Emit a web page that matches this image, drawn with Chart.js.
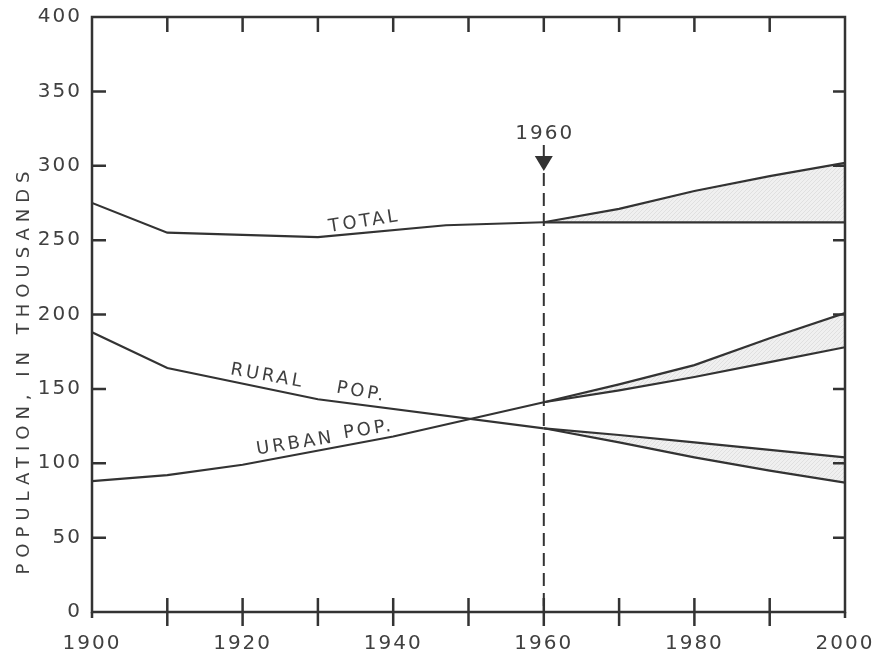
<!DOCTYPE html>
<html>
<head>
<meta charset="utf-8">
<script src="https://cdn.jsdelivr.net/npm/chart.js@4.4.1/dist/chart.umd.min.js"></script>
<style>
  html, body { margin: 0; padding: 0; background: #ffffff; }
  canvas { display: block; }
</style>
</head>
<body>
<canvas id="pop" width="880" height="657"></canvas>
<script>
// Census history (thousands of people)
const totalYears = [1900, 1910, 1930, 1947, 1960];
const totalPop   = [275, 255, 252, 260, 262];
const ruralYears = [1900, 1910, 1930, 1960];
const ruralPop   = [188, 164, 143, 123.5];
const urbanYears = [1900, 1910, 1920, 1940, 1960];
const urbanPop   = [88, 92, 99, 118, 141];

// Projection range 1960-2000 (high and low estimates)
const projYears  = [1960, 1970, 1980, 1990, 2000];
const totalHigh  = [262, 271, 283, 293, 302];
const totalLow   = [262, 262, 262, 262, 262];
const ruralHigh  = [123.5, 119, 114, 109, 104];
const ruralLow   = [123.5, 114, 104, 95, 87];
const urbanHigh  = [141, 153, 166, 184, 201];
const urbanLow   = [141, 149, 158, 168, 178];

// Axis ticks
const yTickValues  = [0, 50, 100, 150, 200, 250, 300, 350, 400];
const xTickYears   = [1910, 1920, 1930, 1940, 1950, 1960, 1970, 1980, 1990];
const baseYear     = 1960;

const INK = '#333333';
const TEXT = '#404040';
const FONT = '"DejaVu Sans", sans-serif';

function pts(xs, ys) { return xs.map((x, i) => ({ x: x, y: ys[i] })); }

// fine diagonal hatching for the projection bands
function hatch() {
  const c = document.createElement('canvas');
  c.width = 4; c.height = 4;
  const g = c.getContext('2d');
  g.fillStyle = '#f0f0f0';
  g.fillRect(0, 0, 4, 4);
  g.strokeStyle = '#dcdcdc';
  g.lineWidth = 0.8;
  g.beginPath();
  g.moveTo(0, 4); g.lineTo(4, 0);
  g.moveTo(-1, 1); g.lineTo(1, -1);
  g.moveTo(3, 5); g.lineTo(5, 3);
  g.stroke();
  return g.createPattern(c, 'repeat');
}
const band = hatch();

function line(data, fill) {
  return {
    data: data,
    borderColor: INK,
    borderWidth: 2.2,
    pointRadius: 0,
    tension: 0,
    fill: fill || false,
    backgroundColor: band
  };
}

const datasets = [
  line(pts(totalYears, totalPop)),
  line(pts(projYears, totalLow)),
  line(pts(projYears, totalHigh), '-1'),
  line(pts(ruralYears, ruralPop)),
  line(pts(projYears, ruralLow)),
  line(pts(projYears, ruralHigh), '-1'),
  line(pts(urbanYears, urbanPop)),
  line(pts(projYears, urbanLow)),
  line(pts(projYears, urbanHigh), '-1')
];

function label(ctx, text, x, y, deg, size, spacing) {
  ctx.save();
  ctx.translate(x, y);
  ctx.rotate(deg * Math.PI / 180);
  ctx.font = size + 'px ' + FONT;
  ctx.letterSpacing = spacing + 'px';
  ctx.fillStyle = TEXT;
  ctx.textAlign = 'center';
  ctx.textBaseline = 'middle';
  ctx.fillText(text, spacing / 2, 0);
  ctx.restore();
}

const framePlugin = {
  id: 'frame',
  beforeDraw(chart) {
    chart.ctx.letterSpacing = '2px';
  },
  afterDraw(chart) {
    const ctx = chart.ctx;
    const a = chart.chartArea;
    const xs = chart.scales.x, ys = chart.scales.y;
    ctx.save();
    ctx.strokeStyle = INK;
    ctx.lineWidth = 2.5;
    ctx.strokeRect(a.left, a.top, a.right - a.left, a.bottom - a.top);

    ctx.beginPath();
    // inward ticks on left and right sides
    yTickValues.filter(v => v > 0 && v < 400).forEach(v => {
      const py = ys.getPixelForValue(v);
      ctx.moveTo(a.left, py); ctx.lineTo(a.left + 14, py);
      ctx.moveTo(a.right, py); ctx.lineTo(a.right - 12, py);
    });
    // top ticks point down, bottom ticks cross the axis
    xTickYears.forEach(yr => {
      const px = xs.getPixelForValue(yr);
      ctx.moveTo(px, a.top); ctx.lineTo(px, a.top + 15);
      ctx.moveTo(px, a.bottom - 14); ctx.lineTo(px, a.bottom + 14);
    });
    [1900, 2000].forEach(yr => {
      const px = xs.getPixelForValue(yr);
      ctx.moveTo(px, a.bottom); ctx.lineTo(px, a.bottom + 6);
    });
    ctx.stroke();

    // 1960 marker: dashed line with arrow
    const bx = xs.getPixelForValue(baseYear);
    ctx.lineWidth = 2;
    ctx.setLineDash([13, 7]);
    ctx.beginPath();
    ctx.moveTo(bx, 173); ctx.lineTo(bx, a.bottom);
    ctx.stroke();
    ctx.setLineDash([]);
    ctx.beginPath();
    ctx.moveTo(bx, 145); ctx.lineTo(bx, 158);
    ctx.stroke();
    ctx.fillStyle = INK;
    ctx.beginPath();
    ctx.moveTo(bx - 9, 156); ctx.lineTo(bx + 9, 156); ctx.lineTo(bx, 171);
    ctx.closePath();
    ctx.fill();
    ctx.restore();

    label(ctx, String(baseYear), bx, 134, 0, 20, 2);

    // series names along the curves
    label(ctx, 'TOTAL', 363, 222, -9, 18, 3);
    label(ctx, 'RURAL', 266, 376, 10, 18, 3);
    label(ctx, 'POP.', 360, 392, 10, 18, 3);
    label(ctx, 'URBAN', 294, 444, -9, 18, 3);
    label(ctx, 'POP.', 367, 430, -9, 18, 3);

    // vertical axis title
    label(ctx, 'POPULATION, IN THOUSANDS', 24, 373, -90, 18, 6);
  }
};

new Chart(document.getElementById('pop'), {
  type: 'line',
  data: { datasets: datasets },
  plugins: [framePlugin],
  options: {
    responsive: false,
    animation: false,
    devicePixelRatio: 1,
    layout: { padding: { top: 17, right: 35, left: 0, bottom: 0 } },
    plugins: {
      legend: { display: false },
      tooltip: { enabled: false },
      filler: { propagate: false }
    },
    scales: {
      x: {
        type: 'linear',
        min: 1900,
        max: 2000,
        grid: { display: false, drawTicks: false },
        border: { display: false },
        ticks: { stepSize: 20, padding: 20, color: TEXT, font: { family: FONT, size: 20 },
                 callback: v => String(v) },
        afterFit(s) { s.height = 45; s.paddingLeft = 0; s.paddingRight = 0; }
      },
      y: {
        min: 0,
        max: 400,
        grid: { display: false, drawTicks: false },
        border: { display: false },
        ticks: { stepSize: 50, padding: 10, color: TEXT, font: { family: FONT, size: 20 },
                 callback: v => String(v) },
        afterFit(s) { s.width = 92; s.paddingTop = 0; s.paddingBottom = 0; }
      }
    }
  }
});
</script>
</body>
</html>
